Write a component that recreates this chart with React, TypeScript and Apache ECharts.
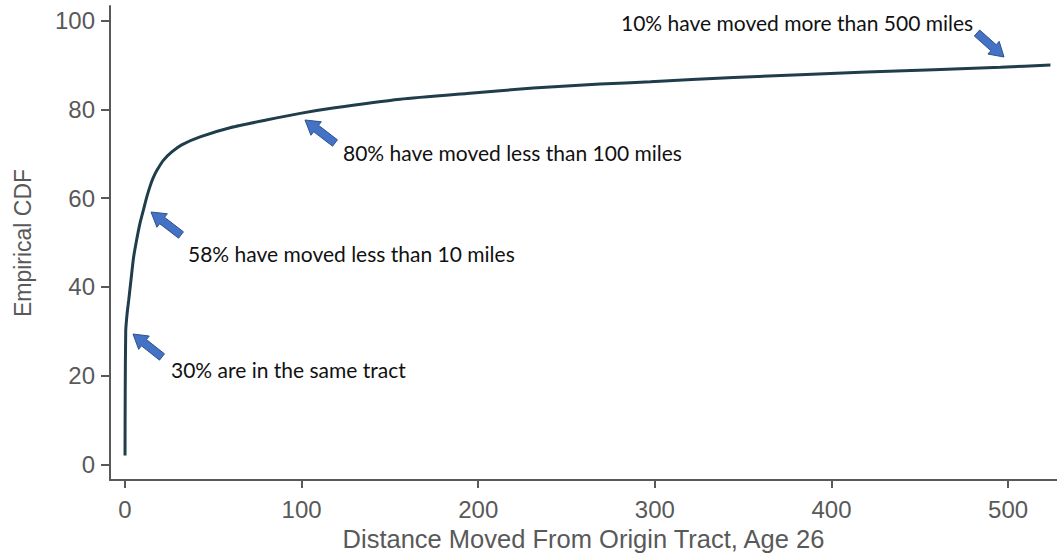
import React, { useEffect, useRef } from "react";
import * as echarts from "echarts";

const distance = [0, 0.1, 0.4, 1.2, 2.1, 3.4, 4.8, 6.6, 8.4, 10.4, 12.3, 14.2, 16, 18, 21.7, 26.5, 32.1, 42.5, 60, 80, 99.2, 117.8, 155.8, 193.6, 231.2, 269, 297.5, 344.5, 420, 495.8, 524];
const cdf = [2, 15, 30, 34, 37, 41.6, 46.5, 50.6, 54.2, 57.3, 60.2, 62.7, 64.6, 66.2, 68.5, 70.4, 72.0, 73.8, 75.9, 77.6, 79.1, 80.3, 82.3, 83.6, 84.8, 85.7, 86.2, 87.2, 88.4, 89.5, 90.0];
const xTicks = [0, 100, 200, 300, 400, 500];
const yTicks = [0, 20, 40, 60, 80, 100];
const annotations = [
  "30% are in the same tract",
  "58% have moved less than 10 miles",
  "80% have moved less than 100 miles",
  "10% have moved more than 500 miles",
];

// layout of annotations (pixels): text left/center-y, arrow tail & tip
const annLayout = [
  { tx: 171, ty: 369, tail: [162, 357], tip: [133, 334] },
  { tx: 188, ty: 253, tail: [181, 235], tip: [151, 212] },
  { tx: 343, ty: 152, tail: [335, 143], tip: [305, 120] },
  { tx: 621, ty: 22, tail: [977, 33], tip: [1004, 57] },
];

function arrowPoints(tail: number[], tip: number[]) {
  const dx = tip[0] - tail[0];
  const dy = tip[1] - tail[1];
  const len = Math.hypot(dx, dy);
  const ux = dx / len, uy = dy / len;
  const nx = -uy, ny = ux;
  const headL = 14, sh = 4, hh = 8.5;
  const bx = tip[0] - ux * headL, by = tip[1] - uy * headL;
  return [
    [tail[0] + nx * sh, tail[1] + ny * sh],
    [bx + nx * sh, by + ny * sh],
    [bx + nx * hh, by + ny * hh],
    [tip[0], tip[1]],
    [bx - nx * hh, by - ny * hh],
    [bx - nx * sh, by - ny * sh],
    [tail[0] - nx * sh, tail[1] - ny * sh],
  ];
}

export default function App() {
  const ref = useRef<HTMLDivElement>(null);
  useEffect(() => {
    if (!ref.current) return;
    const chart = echarts.init(ref.current, undefined, { renderer: "svg" });
    const axisColor = "#595959";
    const graphics: any[] = [];
    annLayout.forEach((a, i) => {
      graphics.push({
        type: "polygon",
        shape: { points: arrowPoints(a.tail, a.tip) },
        style: { fill: "#4472c4", stroke: "#2f528f", lineWidth: 1 },
        z: 10,
      });
      graphics.push({
        type: "text",
        x: a.tx,
        y: a.ty,
        style: {
          text: annotations[i],
          fill: "#111",
          font: "21px Lato, 'Open Sans', sans-serif",
          verticalAlign: "middle",
          align: "left",
        },
        z: 10,
      });
    });
    chart.setOption({
      animation: false,
      backgroundColor: "#ffffff",
      grid: { left: 110, right: 0, top: 6, bottom: 78, containLabel: false },
      xAxis: {
        type: "value",
        min: -8.5,
        max: 527.7,
        name: "Distance Moved From Origin Tract, Age 26",
        nameLocation: "middle",
        nameGap: 44,
        nameTextStyle: { color: axisColor, fontSize: 25.5, fontFamily: "'Liberation Sans', Arial, sans-serif" },
        axisLine: { show: true, onZero: false, lineStyle: { color: axisColor, width: 2 } },
        axisTick: { show: true, customValues: xTicks, length: 8, lineStyle: { color: axisColor, width: 2 } },
        axisLabel: {
          customValues: xTicks,
          color: axisColor,
          fontSize: 24,
          fontFamily: "'Liberation Sans', Arial, sans-serif",
          margin: 17,
        },
        splitLine: { show: false },
      },
      yAxis: {
        type: "value",
        min: -3.54,
        max: 103.3,
        name: "Empirical CDF",
        nameLocation: "middle",
        nameGap: 76,
        nameTextStyle: { color: axisColor, fontSize: 23, fontFamily: "'Liberation Sans', Arial, sans-serif" },
        axisLine: { show: true, onZero: false, lineStyle: { color: axisColor, width: 2 } },
        axisTick: { show: true, customValues: yTicks, length: 9, lineStyle: { color: axisColor, width: 2 } },
        axisLabel: {
          customValues: yTicks,
          color: axisColor,
          fontSize: 24,
          fontFamily: "'Liberation Sans', Arial, sans-serif",
          margin: 15,
        },
        splitLine: { show: false },
      },
      series: [
        {
          type: "line",
          data: distance.map((d, i) => [d, cdf[i]]),
          showSymbol: false,
          smooth: 0.2,
          lineStyle: { color: "#1f3d4b", width: 3 },
          z: 5,
        },
      ],
      graphic: graphics,
    });
    return () => chart.dispose();
  }, []);
  return (
    <div
      ref={ref}
      style={{ position: "fixed", left: 0, top: 0, width: 1057, height: 558, background: "#fff" }}
    />
  );
}
